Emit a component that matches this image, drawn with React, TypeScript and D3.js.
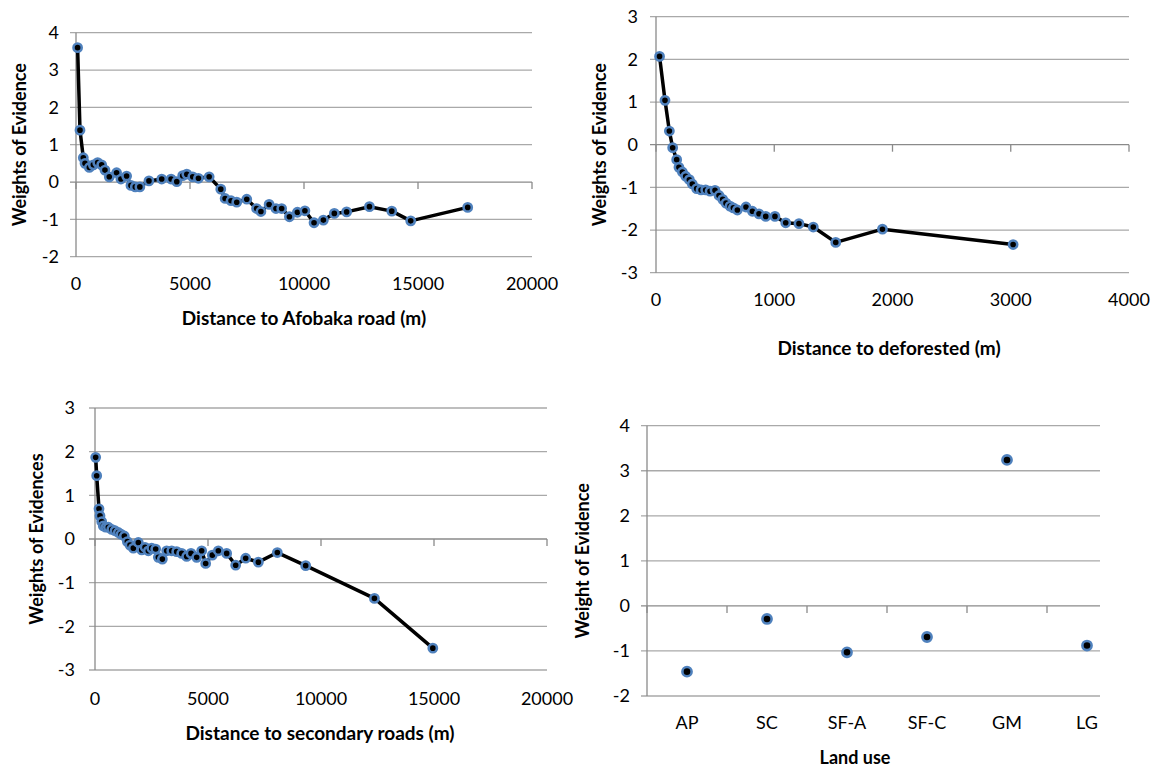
import * as d3 from "d3"

// distance to Afobaka road (m) / weights of evidence
const afobakaDist = [70, 175, 320, 395, 585, 760, 950, 1125, 1270, 1460, 1780, 1970, 2220, 2410, 2600, 2800, 3200, 3760, 4170, 4420, 4680, 4860, 5120, 5370, 5840, 6350, 6540, 6800, 7050, 7490, 7920, 8110, 8470, 8770, 9020, 9360, 9710, 10040, 10440, 10850, 11330, 11870, 12870, 13850, 14680, 17180]
const afobakaWoe = [3.6, 1.39, 0.65, 0.5, 0.39, 0.46, 0.52, 0.46, 0.32, 0.14, 0.25, 0.08, 0.16, -0.09, -0.13, -0.13, 0.03, 0.08, 0.08, 0.01, 0.17, 0.21, 0.14, 0.1, 0.14, -0.19, -0.44, -0.5, -0.54, -0.46, -0.71, -0.79, -0.6, -0.71, -0.71, -0.93, -0.81, -0.77, -1.09, -1.02, -0.84, -0.8, -0.66, -0.78, -1.04, -0.68]

// distance to deforested (m)
const deforestDist = [30, 76, 113, 141, 175, 194, 223, 251, 282, 307, 344, 381, 420, 457, 499, 533, 564, 592, 626, 654, 688, 761, 815, 871, 928, 1006, 1097, 1209, 1330, 1520, 1915, 3020]
const deforestWoe = [2.07, 1.04, 0.32, -0.07, -0.35, -0.53, -0.64, -0.74, -0.82, -0.92, -1.03, -1.06, -1.06, -1.09, -1.07, -1.19, -1.28, -1.37, -1.44, -1.48, -1.53, -1.46, -1.56, -1.62, -1.68, -1.68, -1.83, -1.85, -1.93, -2.29, -1.98, -2.34]

// distance to secondary roads (m)
const secondaryDist = [30, 75, 177, 221, 296, 367, 473, 590, 738, 885, 1031, 1150, 1298, 1431, 1549, 1696, 1917, 2066, 2213, 2360, 2508, 2685, 2803, 2980, 3171, 3393, 3614, 3835, 4056, 4248, 4499, 4720, 4897, 5191, 5457, 5826, 6225, 6668, 7228, 8068, 9323, 12364, 14948]
const secondaryWoe = [1.87, 1.45, 0.69, 0.53, 0.4, 0.3, 0.27, 0.27, 0.22, 0.19, 0.15, 0.11, 0.07, -0.06, -0.14, -0.21, -0.08, -0.25, -0.19, -0.27, -0.21, -0.23, -0.42, -0.46, -0.27, -0.27, -0.29, -0.33, -0.4, -0.33, -0.42, -0.27, -0.56, -0.37, -0.27, -0.33, -0.6, -0.44, -0.53, -0.31, -0.61, -1.36, -2.5]

// land use
const landUseCats = ["AP", "SC", "SF-A", "SF-C", "GM", "LG"]
const landUseWoe = [-1.46, -0.29, -1.03, -0.69, 3.24, -0.88]

const FONT = "Lato, 'Open Sans', sans-serif"
const GRID = "#a9a9a9"
const AXIS = "#8a8a8a"
const RING = "#4f81bd"
const INK = "#000"

const Marker = ({ cx, cy, r = 4.1 }) => (
  <circle cx={cx} cy={cy} r={r} fill="#000" stroke={RING} strokeWidth={2.6} />
)

const YAxisParts = ({ y, ticks, left, right, labelX, title, titleX }) => (
  <g>
    {ticks.map((t) => (
      <g key={t}>
        <line x1={left - 6} x2={right} y1={y(t)} y2={y(t)} stroke={t === 0 ? AXIS : GRID} strokeWidth={1.3} />
        <text x={labelX} y={y(t)} dy="0.35em" textAnchor="end" fontSize={18} fill={INK}>{t}</text>
      </g>
    ))}
    <line x1={left} x2={left} y1={y(ticks[ticks.length - 1])} y2={y(ticks[0])} stroke={AXIS} strokeWidth={1.3} />
    <text
      transform={`translate(${titleX}, ${(y(ticks[0]) + y(ticks[ticks.length - 1])) / 2}) rotate(-90)`}
      textAnchor="middle" dy="0.35em" fontSize={18} fontWeight="bold" fill={INK}
    >{title}</text>
  </g>
)

const ScatterLine = ({ xs, ys, box, xMax, xStep, yMin, yMax, xTitle, yTitle }) => {
  const x = d3.scaleLinear().domain([0, xMax]).range([box.left, box.right])
  const y = d3.scaleLinear().domain([yMin, yMax]).range([box.bottom, box.top])
  const yTicks = d3.range(yMin, yMax + 1)
  const xTicks = d3.range(0, xMax + 1, xStep)
  const pts = xs.map((d, i) => [x(d), y(ys[i])])
  const path = d3.line()(pts)

  return (
    <g fontFamily={FONT}>
      <YAxisParts y={y} ticks={yTicks} left={box.left} right={box.right} labelX={box.labelX} title={yTitle} titleX={box.yTitleX} />
      {xTicks.map((t) => (
        <g key={t}>
          <line x1={x(t)} x2={x(t)} y1={y(0)} y2={y(0) + 7} stroke={AXIS} strokeWidth={1.3} />
          <text x={x(t)} y={box.xLabelY} dy="0.35em" textAnchor="middle" fontSize={18} fill={INK}>{t}</text>
        </g>
      ))}
      <text x={box.xTitleX} y={box.xTitleY} dy="0.35em" textAnchor="middle" fontSize={19} fontWeight="bold" fill={INK}>{xTitle}</text>
      <path d={path} fill="none" stroke="#000" strokeWidth={3.5} strokeLinejoin="round" />
      {pts.map((p, i) => <Marker key={i} cx={p[0]} cy={p[1]} />)}
    </g>
  )
}

const CategoryDots = ({ cats, vals, box }) => {
  const x = d3.scaleBand().domain(cats).range([box.left, box.bandRight])
  const y = d3.scaleLinear().domain([-2, 4]).range([box.bottom, box.top])
  const yTicks = d3.range(-2, 5)
  const bounds = cats.map((c) => x(c)).concat([box.bandRight])

  return (
    <g fontFamily={FONT}>
      <YAxisParts y={y} ticks={yTicks} left={box.left} right={box.right} labelX={box.labelX} title="Weight of Evidence" titleX={box.yTitleX} />
      {bounds.filter((b) => b <= box.right).map((b, i) => (
        <line key={i} x1={b} x2={b} y1={y(0)} y2={y(0) + 7} stroke={AXIS} strokeWidth={1.3} />
      ))}
      {cats.map((c) => (
        <text key={c} x={x(c) + x.bandwidth() / 2} y={box.xLabelY} dy="0.35em" textAnchor="middle" fontSize={18} fill={INK}>{c}</text>
      ))}
      <text x={box.xTitleX} y={box.xTitleY} dy="0.35em" textAnchor="middle" fontSize={18} fontWeight="bold" fill={INK}>Land use</text>
      {cats.map((c, i) => (
        <Marker key={c} cx={x(c) + x.bandwidth() / 2} cy={y(vals[i])} r={4.6} />
      ))}
    </g>
  )
}

export default function App() {
  return (
    <svg width={1157} height={767} style={{ position: "absolute", left: 0, top: 0, background: "#fff" }}>
      <ScatterLine
        xs={afobakaDist} ys={afobakaWoe} xMax={20000} xStep={5000} yMin={-2} yMax={4}
        box={{ left: 76, right: 532, top: 32.7, bottom: 256.7, labelX: 59, yTitleX: 20, xLabelY: 284, xTitleX: 304, xTitleY: 318 }}
        xTitle="Distance to Afobaka road (m)" yTitle="Weights of Evidence"
      />
      <ScatterLine
        xs={deforestDist} ys={deforestWoe} xMax={4000} xStep={1000} yMin={-3} yMax={3}
        box={{ left: 656, right: 1129, top: 16.7, bottom: 272.7, labelX: 638, yTitleX: 600, xLabelY: 300, xTitleX: 889, xTitleY: 348 }}
        xTitle="Distance to deforested (m)" yTitle="Weights of Evidence"
      />
      <ScatterLine
        xs={secondaryDist} ys={secondaryWoe} xMax={20000} xStep={5000} yMin={-3} yMax={3}
        box={{ left: 95, right: 547, top: 408, bottom: 670, labelX: 75, yTitleX: 37, xLabelY: 699, xTitleX: 320, xTitleY: 733 }}
        xTitle="Distance to secondary roads (m)" yTitle="Weights of Evidences"
      />
      <CategoryDots
        cats={landUseCats} vals={landUseWoe}
        box={{ left: 647, right: 1100, bandRight: 1127, top: 425.7, bottom: 696, labelX: 630, yTitleX: 583, xLabelY: 723, xTitleX: 855, xTitleY: 758 }}
      />
    </svg>
  )
}
